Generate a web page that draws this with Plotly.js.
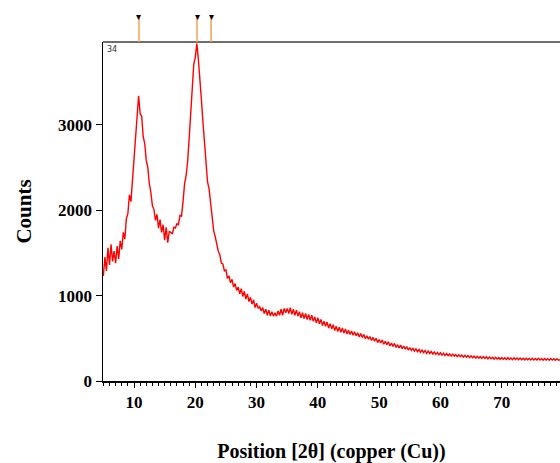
<!DOCTYPE html>
<html>
<head>
<meta charset="utf-8">
<script src="https://cdn.plot.ly/plotly-3.0.1.min.js"></script>
<style>html,body{margin:0;padding:0;background:#fff;}#chart{width:560px;height:463px;}</style>
</head>
<body>
<div id="chart"></div>
<script>
// Scan start and step (degrees 2θ)
const startAngle = 5;
const stepAngle = 0.25;
// Counts, one per 0.25° step from 5° to 79.5°
const counts = [
  1230, 1450, 1290, 1560,
  1360, 1600, 1400, 1520,
  1380, 1580, 1430, 1640,
  1540, 1740, 1660, 1900,
  1960, 2180, 2100, 2340,
  2600, 2920, 3160, 3340,
  3130, 3100, 2860, 2780,
  2580, 2500, 2310, 2210,
  2050, 2010, 1880, 1950,
  1790, 1890, 1740, 1830,
  1650, 1800, 1620, 1750,
  1740, 1720, 1800, 1790,
  1840, 1830, 1940, 1930,
  2100, 2310, 2400, 2570,
  2840, 3160, 3440, 3710,
  3790, 3950, 3770, 3570,
  3290, 3030, 2770, 2530,
  2330, 2250, 2090, 1930,
  1760, 1690, 1580, 1520,
  1480, 1380, 1370, 1290,
  1300, 1200, 1230, 1150,
  1190, 1100, 1140, 1060,
  1100, 1020, 1080, 990,
  1050, 960, 1020, 930,
  980, 900, 950, 860,
  910, 850, 870, 820,
  860, 790, 840, 770,
  830, 760, 810, 760,
  800, 760, 820, 770,
  840, 770, 850, 800,
  850, 790, 860, 780,
  840, 770, 830, 760,
  810, 740, 800, 730,
  790, 720, 780, 710,
  770, 700, 750, 680,
  740, 670, 720, 650,
  700, 640, 690, 620,
  670, 610, 660, 590,
  640, 580, 630, 570,
  620, 560, 610, 550,
  595, 545, 585, 535,
  575, 530, 565, 515,
  555, 510, 545, 495,
  530, 490, 520, 475,
  510, 465, 500, 450,
  485, 445, 480, 430,
  465, 425, 460, 410,
  445, 405, 440, 392,
  425, 388, 420, 378,
  408, 372, 402, 362,
  392, 358, 386, 350,
  376, 344, 370, 336,
  362, 332, 356, 324,
  350, 322, 345, 316,
  340, 312, 334, 306,
  330, 303, 325, 298,
  322, 296, 317, 291,
  314, 290, 310, 285,
  307, 284, 303, 279,
  301, 278, 297, 273,
  295, 273, 291, 268,
  289, 268, 286, 264,
  285, 264, 282, 260,
  281, 260, 278, 257,
  278, 257, 275, 254,
  275, 255, 272, 252,
  273, 253, 270, 250,
  271, 251, 268, 249,
  269, 250, 267, 247,
  267, 248, 265, 246,
  266, 247, 264, 245,
  265, 246, 263, 244,
  264, 245, 262, 243,
  262, 244, 260, 242,
  261, 243, 250
];
// Reference peak positions (top markers)
const peakPositions = [10.81, 20.28, 22.57];
const xTickVals = [10, 20, 30, 40, 50, 60, 70];
const yTickVals = [0, 1000, 2000, 3000];
const panelLabel = "34";

const serif = "Liberation Serif, Times New Roman, serif";

const trace = {
  type: "scatter", mode: "lines",
  x0: startAngle, dx: stepAngle, y: counts,
  line: {color: "#ff0000", width: 1.4},
  hoverinfo: "x+y"
};

const shapes = [{
  type: "line", xref: "paper", yref: "paper", x0: 0, x1: 1, y0: 1, y1: 1,
  line: {color: "#6e6e6e", width: 2}
}];
peakPositions.forEach(p => shapes.push({
  type: "line", xref: "x", yref: "paper", x0: p, x1: p, y0: 1.0, y1: 1.072,
  line: {color: "#f5a050", width: 1.5}
}));

const annotations = peakPositions.map(p => ({
  xref: "x", yref: "paper", x: p, y: 1.078, yanchor: "middle", xanchor: "center",
  text: "▾", showarrow: false, font: {size: 10, color: "#000"}
}));
annotations.push({
  xref: "paper", yref: "paper", x: 0.004, y: 0.998, xanchor: "left", yanchor: "top",
  text: panelLabel, showarrow: false, font: {family: "DejaVu Sans, sans-serif", size: 8, color: "#333"}
});

const layout = {
  width: 560, height: 463,
  margin: {l: 103, r: 0, t: 42, b: 82, pad: 0},
  paper_bgcolor: "#fff", plot_bgcolor: "#fff",
  showlegend: false,
  xaxis: {
    range: [4.94, 79.51],
    tickvals: xTickVals,
    ticks: "outside", ticklen: 5, tickwidth: 1, tickcolor: "#000",
    minor: {dtick: 1, tick0: 0, ticks: "outside", ticklen: 3, tickcolor: "#000", tickwidth: 1, showgrid: false},
    showline: true, linecolor: "#000", linewidth: 1.5,
    showgrid: false, zeroline: false,
    tickfont: {family: serif, size: 17, color: "#000", weight: "bold"},
    title: {text: "Position [2θ] (copper (Cu))", font: {family: serif, size: 20, color: "#000", weight: "bold"}, standoff: 33}
  },
  yaxis: {
    range: [0, 3969],
    tickvals: yTickVals,
    ticks: "outside", ticklen: 6, tickwidth: 1, tickcolor: "#000",
    showline: true, linecolor: "#000", linewidth: 1.5,
    showgrid: false, zeroline: false,
    tickfont: {family: serif, size: 17, color: "#000", weight: "bold"},
    title: {text: "Counts", font: {family: serif, size: 21, color: "#000", weight: "bold"}, standoff: 20}
  },
  shapes: shapes,
  annotations: annotations
};

Plotly.newPlot("chart", [trace], layout, {displayModeBar: false, staticPlot: true});
</script>
</body>
</html>
